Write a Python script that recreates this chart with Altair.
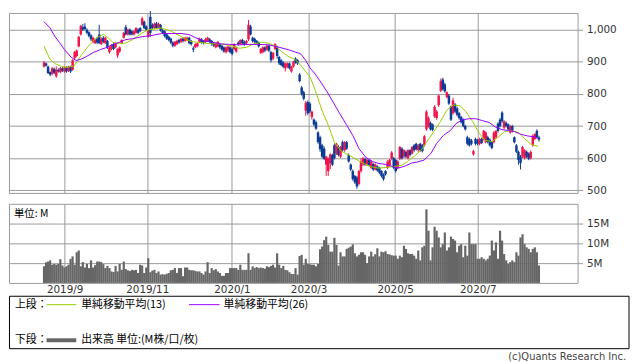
import altair as alt
import pandas as pd

# ---------------- data ----------------
opens = [885, 895, 885, 868, 862, 878, 855, 875, 868, 880,
         870, 882, 872, 885, 875, 912, 918, 948, 985, 1008,
         1010, 1000, 992, 982, 962, 958, 972, 985, 955, 975,
         958, 965, 930, 940, 955, 945, 920, 932, 958, 975,
         1008, 985, 1000, 995, 985, 990, 1000, 1005, 1015, 1025,
         1010, 978, 1040, 1015, 1005, 1020, 1008, 1015, 998, 995,
         985, 978, 972, 960, 950, 955, 968, 962, 972, 965,
         968, 975, 965, 942, 945, 948, 962, 970, 965, 962,
         965, 970, 965, 958, 945, 948, 955, 950, 945, 930,
         935, 945, 940, 940, 932, 960, 955, 968, 962, 958,
         970, 1010, 975, 972, 965, 960, 928, 930, 945, 938,
         950, 930, 910, 940, 945, 915, 905, 898, 880, 885,
         895, 870, 885, 910, 905, 860, 820, 805, 748, 775,
         770, 728, 720, 712, 680, 665, 640, 630, 580, 560,
         585, 610, 640, 615, 635, 605, 650, 625, 650, 610,
         580, 560, 545, 540, 520, 560, 580, 598, 580, 595,
         570, 582, 565, 575, 570, 560, 550, 560, 570, 578,
         598, 600, 594, 570, 598, 630, 605, 620, 600, 625,
         615, 640, 645, 625, 645, 640, 640, 690, 700, 710,
         705, 730, 725, 765, 810, 845, 830, 790, 795, 760,
         740, 768, 755, 740, 728, 720, 700, 665, 660, 655,
         612, 660, 655, 645, 660, 660, 650, 665, 658, 650,
         650, 665, 708, 720, 742, 695, 710, 705, 680, 700,
         665, 640, 620, 605, 605, 600, 620, 615, 600, 640,
         660, 685, 665]
highs = [902, 898, 888, 870, 884, 882, 886, 880, 884, 884,
         886, 886, 888, 888, 908, 934, 938, 980, 1015, 1018,
         1020, 1004, 995, 986, 978, 972, 978, 1015, 976, 980,
         978, 968, 948, 955, 958, 960, 942, 948, 970, 993,
         1015, 1003, 1004, 998, 998, 1008, 1004, 1008, 1040, 1028,
         1014, 1000, 1058, 1020, 1022, 1024, 1022, 1018, 1002, 998,
         988, 982, 975, 964, 965, 968, 972, 975, 976, 978,
         978, 978, 968, 948, 958, 960, 975, 974, 968, 975,
         978, 974, 968, 962, 960, 965, 958, 953, 948, 948,
         950, 948, 944, 958, 948, 964, 970, 972, 966, 968,
         1030, 1015, 978, 975, 968, 963, 943, 948, 948, 953,
         954, 934, 930, 958, 950, 918, 908, 901, 898, 898,
         898, 888, 903, 914, 908, 865, 825, 810, 778, 780,
         775, 748, 724, 717, 684, 670, 645, 637, 606, 602,
         615, 614, 646, 648, 640, 638, 655, 653, 654, 615,
         584, 565, 548, 545, 564, 600, 604, 602, 598, 598,
         594, 586, 584, 578, 573, 563, 553, 563, 594, 598,
         622, 604, 598, 594, 638, 634, 628, 624, 628, 628,
         638, 644, 648, 644, 648, 644, 672, 750, 730, 714,
         708, 765, 750, 798, 848, 850, 835, 808, 800, 764,
         788, 772, 760, 744, 732, 724, 704, 670, 664, 660,
         626, 664, 660, 664, 664, 688, 684, 670, 662, 654,
         684, 688, 712, 725, 746, 718, 714, 708, 704, 704,
         668, 644, 624, 610, 638, 628, 624, 618, 624, 674,
         678, 690, 670]
lows = [882, 885, 862, 855, 858, 862, 850, 866, 864, 868,
        866, 866, 868, 865, 872, 908, 914, 945, 982, 996,
        998, 986, 976, 965, 958, 955, 955, 955, 952, 958,
        955, 940, 925, 936, 936, 942, 912, 928, 955, 972,
        982, 982, 982, 982, 982, 988, 986, 992, 1012, 1002,
        996, 975, 978, 1002, 1002, 1002, 1005, 994, 986, 976,
        968, 964, 955, 945, 946, 952, 956, 958, 960, 962,
        965, 954, 950, 930, 942, 945, 958, 956, 954, 958,
        962, 958, 950, 946, 942, 945, 940, 934, 928, 926,
        930, 926, 920, 936, 928, 950, 952, 954, 950, 954,
        965, 982, 960, 958, 954, 944, 924, 926, 930, 934,
        930, 898, 905, 936, 910, 890, 886, 880, 870, 880,
        876, 866, 882, 894, 890, 836, 795, 780, 732, 735,
        740, 720, 700, 688, 645, 620, 600, 594, 545, 545,
        566, 576, 596, 610, 606, 600, 620, 620, 626, 586,
        560, 530, 520, 505, 515, 555, 576, 576, 576, 574,
        566, 560, 562, 558, 550, 540, 530, 546, 566, 574,
        594, 566, 555, 566, 594, 596, 600, 600, 596, 606,
        612, 620, 624, 620, 620, 618, 636, 685, 695, 686,
        684, 725, 720, 760, 806, 810, 804, 786, 766, 716,
        735, 740, 730, 720, 708, 696, 686, 640, 636, 640,
        608, 640, 640, 640, 644, 655, 646, 646, 636, 628,
        646, 660, 680, 696, 710, 690, 696, 686, 676, 680,
        646, 616, 580, 565, 600, 596, 600, 594, 596, 636,
        656, 662, 652]
closes = [898, 888, 865, 860, 880, 866, 875, 870, 880, 872,
          882, 870, 885, 870, 905, 930, 935, 978, 1012, 1000,
          1002, 990, 980, 970, 975, 968, 960, 958, 972, 962,
          975, 945, 945, 952, 940, 958, 940, 945, 968, 990,
          985, 1000, 985, 985, 995, 1005, 990, 995, 1035, 1005,
          1000, 998, 990, 1005, 1018, 1005, 1018, 998, 990, 980,
          972, 968, 960, 950, 962, 965, 960, 972, 965, 975,
          975, 958, 955, 938, 955, 958, 972, 960, 958, 970,
          975, 962, 955, 950, 958, 962, 945, 938, 932, 945,
          948, 930, 925, 955, 945, 955, 968, 958, 955, 965,
          1015, 985, 965, 962, 958, 948, 940, 945, 935, 950,
          935, 905, 928, 955, 918, 895, 890, 885, 895, 895,
          880, 885, 900, 898, 895, 840, 800, 785, 772, 740,
          745, 745, 705, 692, 650, 628, 605, 598, 605, 600,
          612, 580, 600, 645, 610, 635, 625, 650, 630, 590,
          565, 535, 525, 512, 560, 590, 600, 580, 595, 578,
          590, 565, 580, 562, 555, 545, 535, 550, 590, 595,
          618, 570, 560, 590, 635, 600, 625, 605, 625, 610,
          635, 625, 628, 640, 625, 622, 668, 745, 725, 690,
          688, 760, 745, 795, 840, 815, 808, 805, 770, 720,
          780, 745, 735, 725, 712, 700, 690, 645, 640, 645,
          622, 645, 645, 660, 648, 685, 680, 650, 640, 632,
          680, 685, 685, 700, 715, 715, 700, 690, 700, 685,
          650, 620, 595, 585, 635, 625, 605, 598, 620, 670,
          675, 665, 658]
volumes = [4.2, 5.2, 5.4, 5.7, 4.6, 4.8, 4.6, 4.8, 6.0, 4.4,
           3.9, 4.2, 4.6, 6.1, 6.7, 4.6, 7.75, 8.2, 4.2, 5.25,
           3.9, 4.8, 3.75, 5.7, 3.9, 4.5, 5.4, 5.4, 5.25, 4.75,
           3.75, 4.3, 3.75, 2.9, 2.75, 4.3, 2.9, 4.8, 3.3, 5.4,
           3.5, 3.2, 3.0, 3.3, 3.2, 3.3, 2.5, 4.6, 4.4, 2.5,
           3.9, 6.25, 2.7, 3.1, 3.3, 2.5, 2.9, 2.1, 2.2, 2.1,
           2.3, 2.5, 3.2, 3.3, 3.75, 2.5, 3.75, 3.75, 1.7, 3.9,
           3.9, 3.3, 3.2, 3.2, 3.0, 2.9, 2.9, 2.5, 2.1, 2.9,
           5.25, 2.5, 3.75, 3.2, 3.5, 2.9, 2.5, 1.8, 1.8, 2.5,
           2.5, 3.75, 3.75, 3.75, 3.75, 3.3, 4.6, 3.3, 3.3, 3.3,
           7.5, 3.3, 4.2, 3.75, 4.0, 3.75, 3.9, 3.75, 3.6, 4.2,
           4.0, 4.3, 4.6, 3.9, 7.5, 4.6, 3.75, 4.3, 3.3, 3.2,
           2.7, 2.25, 2.25, 3.75, 2.1, 6.8, 7.1, 4.6, 6.1, 4.8,
           4.7, 4.6, 4.6, 4.2, 4.8, 8.5, 9.2, 10.8, 11.7, 9.6,
           7.9, 7.9, 11.4, 9.6, 4.4, 7.75, 6.7, 6.7, 8.6, 8.9,
           9.2, 9.75, 7.5, 6.7, 7.1, 7.75, 7.75, 7.1, 5.0, 6.7,
           7.9, 6.7, 7.25, 8.75, 6.7, 7.9, 7.75, 8.0, 7.3, 7.2,
           7.0, 6.9, 6.9, 6.1, 6.9, 6.5, 9.4, 8.6, 7.5, 7.3,
           7.3, 6.9, 6.1, 8.2, 5.7, 9.0, 9.4, 18.6, 13.2, 5.7,
           9.0, 14.2, 13.2, 11.5, 9.0, 9.8, 12.75, 8.2, 9.0, 11.7,
           11.1, 10.7, 7.75, 9.4, 9.8, 6.5, 9.4, 6.9, 12.75, 9.8,
           9.8, 9.8, 6.1, 6.1, 6.5, 6.1, 5.7, 6.1, 6.9, 10.7,
           8.2, 10.25, 6.1, 13.2, 10.7, 7.3, 5.7, 4.8, 5.25, 5.7,
           5.25, 7.75, 6.9, 11.5, 12.3, 9.8, 9.0, 8.6, 7.75, 8.6,
           9.0, 7.75, 4.4]

ma13_day = [0, 2.9, 5.2, 8.6, 11.4, 14.7, 18.5, 21.9, 25.7, 29,
            31.4, 33.7, 37.1, 39.9, 43.3, 48, 51.3, 57.5, 62.3, 67,
            71.8, 76.5, 81.3, 86, 90.8, 95.5, 98.9, 102.7, 106.5, 109.8,
            113.1, 116, 119.3, 122.6, 125.5, 127.9, 130.2, 132.6, 135.9, 139.3,
            142.1, 145.4, 150.2, 154.9, 159.7, 163.5, 168.3, 171.6, 174.9, 177.8,
            181.1, 184.4, 187.3, 190.6, 193.9, 196.8, 200.1, 203.4, 206.3, 209.6,
            212.9, 215.8, 219.1, 222.4, 225.3, 228.6, 232, 234.8, 238.2, 241.6]
ma13_val = [949, 908, 895, 885, 883, 887, 923, 950, 975, 985,
            975, 960, 957, 958, 969, 990, 1000, 1005, 995, 979,
            963, 960, 956, 956, 951, 942, 945, 956, 961, 958,
            949, 933, 917, 908, 890, 870, 852, 812, 750, 698,
            648, 622, 606, 588, 574, 569, 572, 575, 578, 590,
            606, 625, 652, 683, 714, 748, 766, 763, 745, 714,
            677, 655, 652, 667, 683, 686, 680, 662, 643, 637]
ma26_day = [0, 2.9, 5.2, 7.6, 10, 13.3, 15.7, 18.1, 20.9, 24.2,
            27.6, 30.4, 33.7, 37.1, 39.9, 43.3, 48, 52.8, 57.5, 62.3,
            67, 70.8, 74.1, 77.9, 82.2, 86, 90.8, 95.5, 100.3, 105,
            109.8, 114.5, 119.3, 122.6, 125.5, 127.9, 130.2, 132.6, 135, 138.3,
            141.6, 144.5, 147.8, 151.1, 154, 157.3, 160.6, 163.5, 166.8, 170.2,
            173, 176.3, 179.7, 182.5, 185.8, 189.2, 192, 195.3, 198.7, 201.5,
            204.8, 208.2, 211, 214.4, 217.7, 220.5, 223.9, 227.2, 230, 233.4,
            236.7, 239.5, 241.4]
ma26_val = [1025, 1006, 980, 960, 938, 914, 904, 908, 917, 929,
            938, 944, 954, 961, 969, 972, 978, 982, 988, 988,
            988, 985, 975, 966, 961, 956, 954, 953, 954, 954,
            953, 946, 938, 931, 925, 905, 880, 862, 840, 808,
            772, 740, 705, 670, 630, 603, 590, 584, 581, 575,
            569, 575, 585, 588, 594, 615, 646, 671, 686, 708,
            720, 723, 723, 717, 711, 698, 689, 686, 683, 674,
            669, 667, 662]

grid_days = [10.1, 50.5, 91.9, 129.4, 171.7, 212.1]
grid_labels = ["2019/9", "2019/11", "2020/1", "2020/3", "2020/5", "2020/7"]
price_ticks = [500, 600, 700, 800, 900, 1000]
vol_ticks = [5, 10, 15]

volume_unit = "単位: M"
legend_top = "上段："
legend_bottom = "下段："
ma13_name = "単純移動平均(13)"
ma26_name = "単純移動平均(26)"
vol_name = "出来高 単位:(M株/口/枚)"
copyright_text = "(c)Quants Research Inc."

# ---------------- styling ----------------
RED = "#f0144b"
BLUE = "#0c3b96"
GRID = "#9a9a9a"
MA13_COLOR = "#99cc00"
MA26_COLOR = "#9900ff"
VOL_COLOR = "#666666"
LABEL_FONT = "DejaVu Sans"
CJK_FONT = "Noto Sans CJK JP"

n = len(closes)
df = pd.DataFrame({"day": list(range(n)), "open": opens, "high": highs,
                   "low": lows, "close": closes, "volume": volumes})
df["dir"] = ["up" if c >= o else "down" for o, c in zip(opens, closes)]
ma13_df = pd.DataFrame({"day": ma13_day, "v": ma13_val})
ma26_df = pd.DataFrame({"day": ma26_day, "v": ma26_val})

xscale = alt.Scale(domain=[-14.7, 258.5], nice=False, zero=False)
yscale = alt.Scale(domain=[492, 1052], nice=False, zero=False)

mids = [(grid_days[k] + grid_days[k + 1]) / 2 for k in range(len(grid_days) - 1)]
label_expr = "".join(f"datum.value < {m} ? '{lab}' : " for m, lab in zip(mids, grid_labels)) + f"'{grid_labels[-1]}'"

x_price_axis = alt.Axis(values=grid_days, labels=False, ticks=False, domain=False,
                        grid=True, gridColor=GRID, title=None)
y_price_axis = alt.Axis(orient="right", values=price_ticks, format=",.0f", grid=True,
                        gridColor=GRID, tickColor=GRID, tickSize=5, domain=False,
                        labelPadding=4, title=None)

x_enc = alt.X("day:Q", scale=xscale, axis=x_price_axis, title=None)
color_enc = alt.Color("dir:N", scale=alt.Scale(domain=["up", "down"], range=[RED, BLUE]), legend=None)

wicks = alt.Chart(df).mark_rule(strokeWidth=1).encode(
    x=x_enc, y=alt.Y("low:Q", scale=yscale, axis=y_price_axis, title=None),
    y2="high:Q", color=color_enc)
bodies = alt.Chart(df).mark_bar(size=2.5).encode(
    x=x_enc, y=alt.Y("open:Q", scale=yscale, axis=y_price_axis, title=None),
    y2="close:Q", color=color_enc)
line13 = alt.Chart(ma13_df).mark_line(color=MA13_COLOR, strokeWidth=1).encode(
    x=x_enc, y=alt.Y("v:Q", scale=yscale, axis=y_price_axis, title=None))
line26 = alt.Chart(ma26_df).mark_line(color=MA26_COLOR, strokeWidth=1).encode(
    x=x_enc, y=alt.Y("v:Q", scale=yscale, axis=y_price_axis, title=None))

price = alt.layer(wicks, bodies, line13, line26).properties(width=575, height=182)

# volume panel
x_vol_axis = alt.Axis(values=grid_days, labelExpr=label_expr, grid=True, gridColor=GRID,
                      ticks=False, domain=False, labelPadding=2, labelOverlap=False,
                      labelFlush=False, title=None)
y_vol_axis = alt.Axis(orient="right", values=vol_ticks, labelExpr="datum.value + 'M'",
                      grid=True, gridColor=GRID, tickColor=GRID, tickSize=5, domain=False,
                      labelPadding=4, title=None)
vol_bars = alt.Chart(df).mark_bar(size=2.2, color=VOL_COLOR).encode(
    x=alt.X("day:Q", scale=xscale, axis=x_vol_axis, title=None),
    y=alt.Y("volume:Q", scale=alt.Scale(domain=[0, 20], nice=False), axis=y_vol_axis, title=None))
unit_txt = alt.Chart(pd.DataFrame({"t": [volume_unit]})).mark_text(
    align="left", baseline="top", fontSize=10.5, font=CJK_FONT, color="#000").encode(
    x=alt.value(5), y=alt.value(5), text="t:N")
volume = alt.layer(vol_bars, unit_txt).properties(width=575, height=80)

# legend panel
dummy = pd.DataFrame({"d": [0]})


def txt(s, x, y, align="left", size=11, font=CJK_FONT, color="#000"):
    return alt.Chart(dummy).mark_text(align=align, baseline="middle", fontSize=size,
                                      font=font, color=color).encode(
        x=alt.value(x), y=alt.value(y), text=alt.value(s))


def seg(x1, x2, y, color, w):
    return alt.Chart(dummy).mark_rule(color=color, strokeWidth=w).encode(
        x=alt.value(x1), x2=alt.value(x2), y=alt.value(y))


box = alt.Chart(dummy).mark_rect(fillOpacity=0, stroke="#000", strokeWidth=1).encode(
    x=alt.value(0.5), x2=alt.value(627), y=alt.value(2.5), y2=alt.value(55.5))

legend = alt.layer(
    box,
    txt(legend_top, 6, 11),
    seg(38, 68, 11, MA13_COLOR, 1),
    txt(ma13_name, 73, 11),
    seg(182, 213, 11, MA26_COLOR, 1),
    txt(ma26_name, 217, 11),
    txt(legend_bottom, 6, 47),
    seg(38, 68, 47, VOL_COLOR, 4),
    txt(vol_name, 73, 47),
    txt(copyright_text, 624, 64, align="right", size=10, font=LABEL_FONT, color="#444"),
).properties(width=627, height=55, view=alt.ViewBackground(stroke="transparent"))

chart = alt.vconcat(price, volume, legend, spacing=11, bounds="flush").properties(
    padding=0
).configure_view(stroke=GRID, strokeWidth=1).configure_axis(
    labelFont=LABEL_FONT, labelFontSize=10.5, labelColor="#333"
)

chart.save("out.html", embed_options={"renderer": "svg", "actions": False})
